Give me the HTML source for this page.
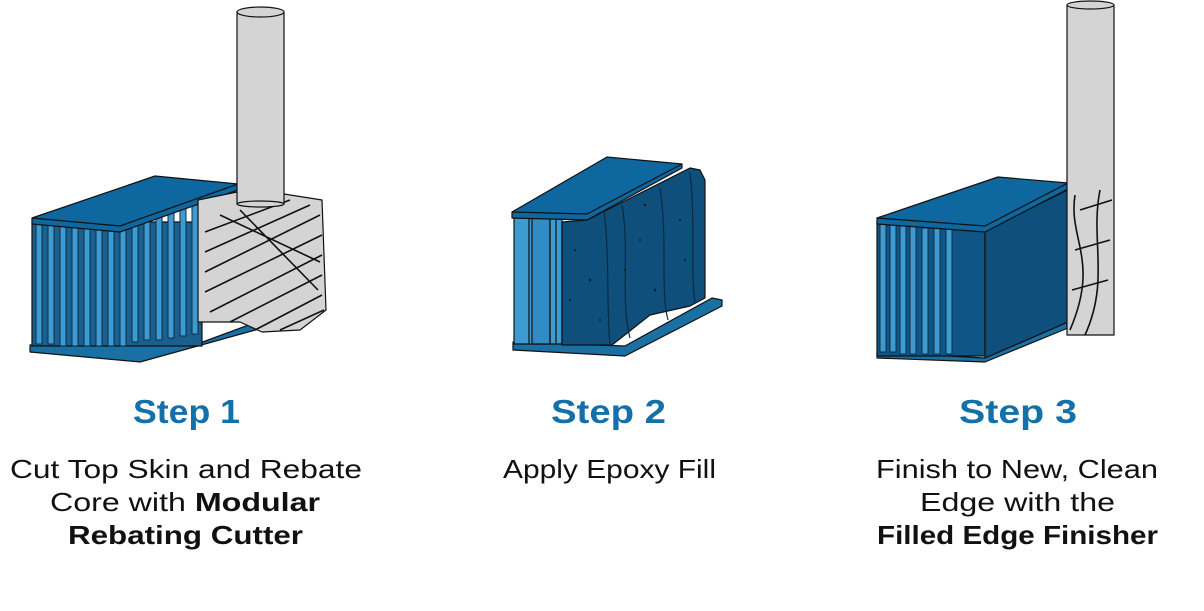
<!DOCTYPE html>
<html><head><meta charset="utf-8"><style>
html,body{margin:0;padding:0;background:#fff;width:1204px;height:611px;overflow:hidden}
svg{display:block}
.t{font-family:"Liberation Sans",sans-serif;font-weight:bold;fill:#1470a8;font-size:33px}
.b{font-family:"Liberation Sans",sans-serif;fill:#111;font-size:26px}
.k{font-weight:bold}
</style></head><body>
<svg width="1204" height="611" viewBox="0 0 1204 611" stroke="#111" stroke-width="1.2" stroke-linejoin="round">
<!-- STEP 1 -->
<polygon points="30,345 200,343 262,320 270,326 140,362 30,352" fill="#1a6fa3"/>
<rect x="32" y="222" width="170" height="124" fill="#1b5f8e"/>
<g fill="#3e9bd2" stroke="#0d2e47" stroke-width="1">
<rect x="36" y="224" width="6" height="120"/><rect x="48" y="224" width="6" height="120"/><rect x="60" y="226" width="6" height="120"/>
<rect x="72" y="226" width="6" height="120"/><rect x="84" y="226" width="6" height="120"/><rect x="96" y="228" width="6" height="118"/>
<rect x="108" y="228" width="6" height="118"/><rect x="120" y="228" width="6" height="118"/><rect x="132" y="222" width="6" height="120"/>
<rect x="144" y="218" width="6" height="122"/><rect x="156" y="214" width="6" height="126"/><rect x="168" y="210" width="6" height="128"/>
<rect x="180" y="206" width="6" height="130"/><rect x="192" y="204" width="6" height="130"/>
</g>
<polygon points="32,218 155,176 238,184 238,190 120,232 32,224" fill="#0f67a0"/>
<polyline points="32,218 120,226 238,184" fill="none"/>
<g>
<path d="M198,200 L237,192 L284,194 L322,200 L326,310 L300,330 L262,332 L240,322 L198,322 Z" fill="#d4d4d4"/>
<g stroke-width="1.6" fill="none">
<path d="M205,232 L290,200"/><path d="M205,252 L310,205"/><path d="M205,272 L320,215"/>
<path d="M205,292 L322,235"/><path d="M210,312 L322,255"/><path d="M230,322 L322,275"/>
<path d="M255,330 L322,295"/><path d="M280,330 L324,310"/>
<path d="M220,215 L320,262 M240,210 L318,290"/>
</g>
<rect x="237" y="12" width="47" height="192" fill="#d4d4d4"/>
<ellipse cx="260.5" cy="204" rx="23.5" ry="3" fill="#d4d4d4"/>
<ellipse cx="260.5" cy="12" rx="23.5" ry="5" fill="#d4d4d4"/>
</g>
<!-- STEP 2 -->
<polygon points="513,342 625,346 712,298 722,300 722,306 625,356 513,350" fill="#1a6fa3"/>
<rect x="514" y="218" width="48" height="126" fill="#3e9bd2"/>
<rect x="532" y="218" width="18" height="126" fill="#2f8cc4"/>
<line x1="529" y1="218" x2="529" y2="344"/><line x1="550" y1="218" x2="550" y2="344"/><line x1="556" y1="218" x2="556" y2="344"/>
<polygon points="562,222 587,220 690,168 700,170 705,180 705,298 690,306 650,315 612,345 562,345" fill="#0f4f7c"/>
<g fill="none" stroke="#0a2a44"><path d="M604,210 C610,260 606,300 610,344"/><path d="M622,205 C630,250 620,300 630,338"/><path d="M660,188 C668,240 660,290 668,320"/><path d="M690,172 C696,230 690,270 695,302"/></g>
<g fill="#0a1a2a" stroke="none">
<circle cx="575" cy="250" r="1"/><circle cx="590" cy="280" r="1.3"/><circle cx="640" cy="240" r="1"/><circle cx="655" cy="290" r="1.2"/><circle cx="680" cy="220" r="1"/><circle cx="600" cy="320" r="1"/><circle cx="570" cy="300" r="1"/><circle cx="645" cy="205" r="1.2"/><circle cx="685" cy="260" r="1"/><circle cx="625" cy="270" r="1"/>
</g>
<polygon points="512,212 607,157 682,164 682,168 587,220 512,218" fill="#0f67a0"/>
<polyline points="512,212 587,214 682,164" fill="none"/>
<!-- STEP 3 -->
<polygon points="877,352 985,358 1068,322 1068,328 985,362 877,358" fill="#1a6fa3"/>
<rect x="877" y="222" width="108" height="134" fill="#0f5585"/>
<g fill="#3e9bd2" stroke="#0d2e47" stroke-width="1">
<rect x="880" y="224" width="6" height="128"/><rect x="890" y="224" width="6" height="128"/><rect x="900" y="226" width="6" height="128"/>
<rect x="910" y="226" width="6" height="128"/><rect x="922" y="228" width="6" height="126"/><rect x="934" y="228" width="6" height="126"/><rect x="946" y="228" width="6" height="126"/>
</g>
<polygon points="985,230 1068,190 1068,322 985,358" fill="#0f4f7c"/>
<polygon points="877,218 998,177 1068,183 1068,189 985,232 877,224" fill="#0f67a0"/>
<polyline points="877,218 985,226 1068,183" fill="none"/>
<rect x="1067" y="5" width="47" height="330" fill="#d4d4d4"/>
<ellipse cx="1090.5" cy="5" rx="23.5" ry="4" fill="#d4d4d4"/>
<g fill="none" stroke-width="1.6"><path d="M1075,195 C1068,240 1100,260 1070,330"/><path d="M1100,190 C1090,240 1110,280 1085,335"/><path d="M1080,210 L1112,200 M1075,250 L1110,240 M1072,290 L1108,280"/></g>
<!-- TEXT -->
<text class="t" x="133" y="423" textLength="107" lengthAdjust="spacingAndGlyphs" stroke="none">Step 1</text>
<text class="t" x="551" y="423" textLength="115" lengthAdjust="spacingAndGlyphs" stroke="none">Step 2</text>
<text class="t" x="959" y="423" textLength="118" lengthAdjust="spacingAndGlyphs" stroke="none">Step 3</text>
<g stroke="none">
<text class="b" x="10" y="478" textLength="352" lengthAdjust="spacingAndGlyphs">Cut Top Skin and Rebate</text>
<text class="b" x="50" y="511" textLength="270" lengthAdjust="spacingAndGlyphs">Core with <tspan class="k">Modular</tspan></text>
<text class="b k" x="68" y="544" textLength="235" lengthAdjust="spacingAndGlyphs">Rebating Cutter</text>
<text class="b" x="503" y="478" textLength="213" lengthAdjust="spacingAndGlyphs">Apply Epoxy Fill</text>
<text class="b" x="876" y="478" textLength="282" lengthAdjust="spacingAndGlyphs">Finish to New, Clean</text>
<text class="b" x="920" y="511" textLength="195" lengthAdjust="spacingAndGlyphs">Edge with the</text>
<text class="b k" x="877" y="544" textLength="281" lengthAdjust="spacingAndGlyphs">Filled Edge Finisher</text>
</g>
</svg>
</body></html>
